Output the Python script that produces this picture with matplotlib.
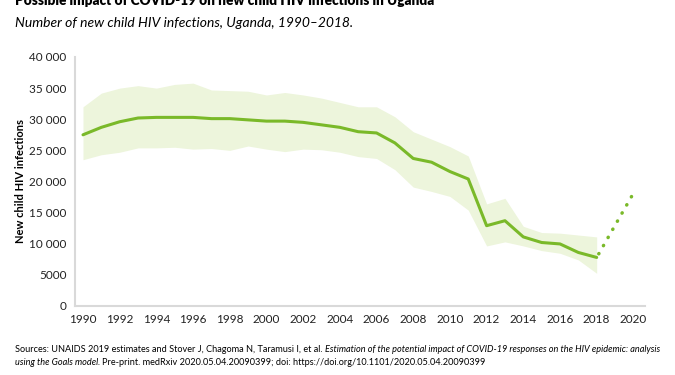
import matplotlib
matplotlib.use("Agg")
import matplotlib.pyplot as plt
from matplotlib.ticker import FuncFormatter

plt.rcParams['font.family'] = ['Lato', 'DejaVu Sans']

years = list(range(1990, 2019))
estimate = [27500, 28700, 29600, 30200, 30300, 30300, 30300, 30100, 30100, 29900,
            29700, 29700, 29500, 29100, 28700, 28000, 27800, 26200, 23700, 23100,
            21600, 20400, 12900, 13700, 11100, 10200, 9970, 8600, 7800]
upper = [32000, 34200, 35000, 35400, 35000, 35600, 35800, 34700, 34600, 34500,
         33900, 34300, 33900, 33400, 32700, 32000, 32000, 30400, 28000, 26800,
         25600, 24100, 16400, 17300, 12800, 11800, 11700, 11400, 11100]
lower = [23500, 24300, 24700, 25400, 25400, 25500, 25200, 25300, 25000, 25700,
         25200, 24800, 25200, 25100, 24700, 24000, 23700, 21900, 19100, 18400,
         17600, 15400, 9650, 10300, 9650, 8900, 8470, 7400, 5250]
proj_years = [2018, 2020]
projection = [7800, 18100]

title = "Possible impact of COVID-19 on new child HIV infections in Uganda"
subtitle = "Number of new child HIV infections, Uganda, 1990\u20132018."
ylabel = "New child HIV infections"
green = "#7ab929"
band = "#edf5dc"
grey = "#d9d9d9"

fig = plt.figure(figsize=(6.75, 3.75), dpi=100)
ax = fig.add_axes([0.111, 0.184, 0.845, 0.664])

ax.fill_between(years, lower, upper, color=band, linewidth=0)
ax.plot(years, estimate, color=green, lw=2.2, solid_capstyle='round')
ax.plot(proj_years, projection, color=green, lw=2.5, linestyle=(1.5, (0.1, 2.6)),
        dash_capstyle='round')

ax.set_xlim(1989.56, 2020.65)
ax.set_ylim(0, 40000)
ax.set_xticks(range(1990, 2021, 2))
ax.set_yticks(range(0, 40001, 5000))
ax.yaxis.set_major_formatter(FuncFormatter(lambda v, p: f"{int(v):,}".replace(",", " ") if v >= 10000 else f"{int(v)}"))
ax.tick_params(length=0, labelsize=8.5, colors='#222222', pad=6)
for s in ['top', 'right']:
    ax.spines[s].set_visible(False)
for s in ['left', 'bottom']:
    ax.spines[s].set_color(grey)
    ax.spines[s].set_linewidth(1.5)

ax.set_ylabel(ylabel, fontsize=8, fontweight='bold', labelpad=8)
ax.yaxis.set_label_coords(-0.085, 0.5)

fig.text(15/675, 1 - 5/375, title, fontsize=9.8, fontweight='heavy', va='baseline', ha='left')
fig.text(15/675, 1 - 27/375, subtitle, fontsize=10, style='italic', va='baseline', ha='left')

fs = 6.6
t1 = fig.text(15/675, 1 - 352/375,
              "Sources: UNAIDS 2019 estimates and Stover J, Chagoma N, Taramusi I, et al. ",
              fontsize=fs, va='baseline', ha='left')
fig.canvas.draw()
r = fig.canvas.get_renderer()
bb = t1.get_window_extent(r)
fig.text(bb.x1 / fig.bbox.width, 1 - 352/375,
         "Estimation of the potential impact of COVID-19 responses on the HIV epidemic: analysis",
         fontsize=fs, style='italic', va='baseline', ha='left')
t3 = fig.text(15/675, 1 - 365/375, "using the Goals model. ",
              fontsize=fs, style='italic', va='baseline', ha='left')
bb3 = t3.get_window_extent(r)
fig.text(bb3.x1 / fig.bbox.width, 1 - 365/375,
         "Pre-print. medRxiv 2020.05.04.20090399; doi: https://doi.org/10.1101/2020.05.04.20090399",
         fontsize=fs, va='baseline', ha='left')

fig.savefig("out.png", dpi=100)
